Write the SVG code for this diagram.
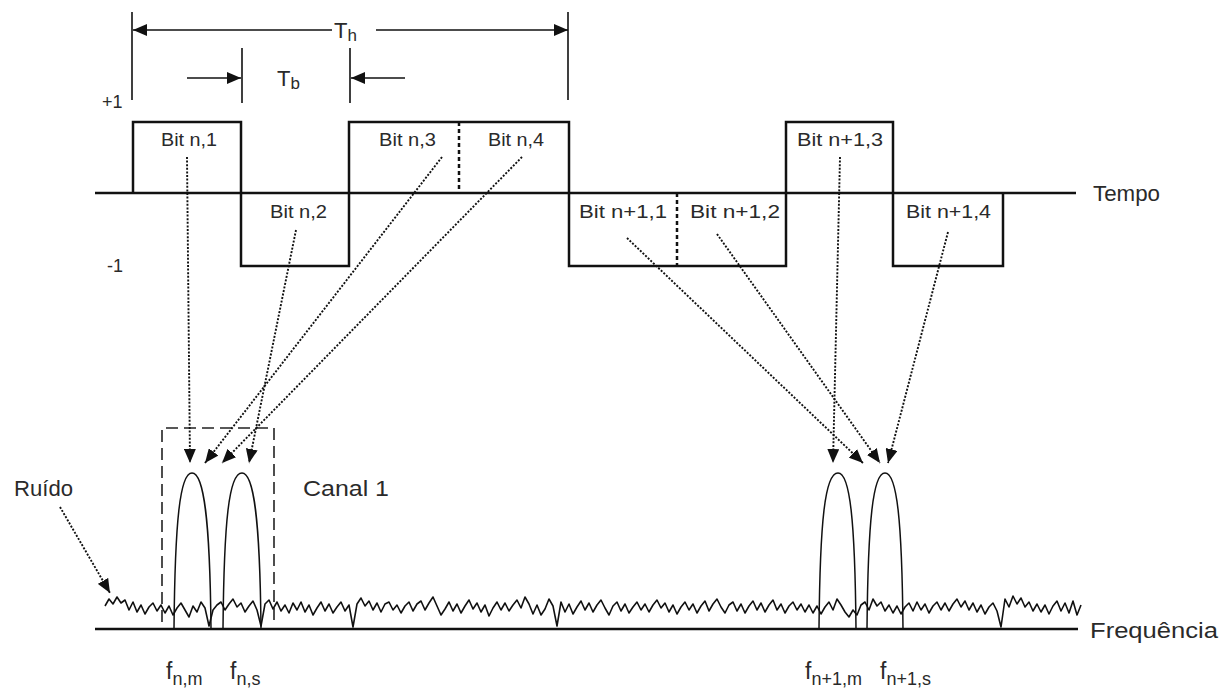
<svg xmlns="http://www.w3.org/2000/svg" width="1228" height="691" viewBox="0 0 1228 691">
<style>
text{font-family:"Liberation Sans",Arial,sans-serif;fill:#2a2a2a;}
.lbl{font-size:18px;}
.big{font-size:22px;}
.ax{stroke:#111;stroke-width:2.5;fill:none;}
.wave{stroke:#111;stroke-width:2.5;fill:none;}
.dim{stroke:#111;stroke-width:1.6;fill:none;}
.dot{stroke:#111;stroke-width:1.9;stroke-dasharray:2 1.6;fill:none;}
.lobe{stroke:#111;stroke-width:1.5;fill:none;}
.noise{stroke:#111;stroke-width:1.6;fill:none;stroke-linejoin:round;}
.box{stroke:#222;stroke-width:1.6;stroke-dasharray:12 6;fill:none;}
</style>
<defs>
<marker id="ah" viewBox="0 0 14 12" refX="14" refY="6" markerWidth="14" markerHeight="12" markerUnits="userSpaceOnUse" orient="auto">
<path d="M0,0 L14,6 L0,12 z" fill="#111"/>
</marker>
</defs>
<rect width="1228" height="691" fill="#fff"/>

<g id="time-axis">
<path class="ax" d="M95,193 H1076"/>
<text class="big" x="1093" y="201" textLength="67" lengthAdjust="spacingAndGlyphs">Tempo</text>
<text class="lbl" x="102" y="108" font-size="15">+1</text>
<text class="lbl" x="107" y="272" font-size="16">-1</text>
</g>

<g id="waveform">
<path class="wave" d="M133,193 V122 H241 V266 H349 V122 H569 V266 H786 V122 H893 V266 H1003 V193"/>
<path class="wave" d="M459,122 V193" stroke-dasharray="4 3"/>
<path class="wave" d="M677,193 V266" stroke-dasharray="4 3"/>
</g>

<g id="bit-labels">
<text class="lbl" x="161" y="146" textLength="56" lengthAdjust="spacingAndGlyphs">Bit n,1</text>
<text class="lbl" x="270" y="218" textLength="57" lengthAdjust="spacingAndGlyphs">Bit n,2</text>
<text class="lbl" x="379" y="146" textLength="57" lengthAdjust="spacingAndGlyphs">Bit n,3</text>
<text class="lbl" x="488" y="146" textLength="56" lengthAdjust="spacingAndGlyphs">Bit n,4</text>
<text class="lbl" x="579" y="218" textLength="88" lengthAdjust="spacingAndGlyphs">Bit n+1,1</text>
<text class="lbl" x="690" y="218" textLength="90" lengthAdjust="spacingAndGlyphs">Bit n+1,2</text>
<text class="lbl" x="797" y="146" textLength="86" lengthAdjust="spacingAndGlyphs">Bit n+1,3</text>
<text class="lbl" x="906" y="218" textLength="85" lengthAdjust="spacingAndGlyphs">Bit n+1,4</text>
</g>

<g id="dimension-Th">
<path class="dim" d="M132,12 V100 M568,12 V100"/>
<path class="dim" d="M332,30 H133" marker-end="url(#ah)"/>
<path class="dim" d="M376,30 H568" marker-end="url(#ah)"/>
<text x="334" y="38" font-size="22">T<tspan font-size="17" dy="3">h</tspan></text>
</g>

<g id="dimension-Tb">
<path class="dim" d="M242,48 V103 M350,48 V103"/>
<path class="dim" d="M187,78 H241" marker-end="url(#ah)"/>
<path class="dim" d="M405,78 H351" marker-end="url(#ah)"/>
<text x="277" y="86" font-size="22">T<tspan font-size="17" dy="3">b</tspan></text>
</g>

<g id="freq-axis">
<path class="ax" d="M95,629 H1078"/>
<text class="big" x="1090" y="638" textLength="128" lengthAdjust="spacingAndGlyphs">Frequência</text>
</g>

<g id="noise">
<polyline class="noise" points="105,606 109,599 113,604 117,597 121,603 125,600 129,610 133,602 137,612 141,605 145,614 149,607 153,603 157,611 161,605 165,613 169,606 173,615 177,608 181,603 185,610 189,617 193,606 197,612 201,602 205,608 209,626 213,610 217,605 221,602 225,610 229,604 233,599 237,607 241,603 245,612 249,606 253,601 257,610 261,626 265,604 269,600 273,609 277,602 281,611 285,605 289,613 293,603 297,610 301,602 305,612 309,605 313,615 317,608 321,602 325,611 329,604 333,613 337,607 341,602 345,611 349,605 353,627 357,604 361,598 365,606 369,601 373,610 377,603 381,612 385,604 389,602 393,610 397,605 401,613 405,606 409,602 413,611 417,604 421,601 425,610 429,603 433,597 437,606 441,615 445,609 449,602 453,611 457,604 461,613 465,606 469,600 473,609 477,603 481,612 485,605 489,616 493,608 497,602 501,610 505,603 509,611 513,605 517,600 521,608 525,597 529,604 533,614 537,605 541,615 545,609 549,599 553,606 557,626 561,602 565,612 569,604 573,614 577,607 581,601 585,610 589,603 593,612 597,605 601,600 605,608 609,615 613,606 617,602 621,611 625,604 629,613 633,607 637,602 641,610 645,604 649,612 653,605 657,600 661,608 665,603 669,612 673,605 677,614 681,607 685,602 689,610 693,604 697,613 701,606 705,601 709,611 713,604 717,599 721,607 725,613 729,605 733,602 737,611 741,604 745,613 749,606 753,601 757,610 761,603 765,612 769,605 773,600 777,610 781,604 785,613 789,606 793,602 797,610 801,604 805,612 809,605 813,613 817,606 821,614 825,607 829,602 833,610 837,599 841,605 845,612 849,617 853,610 857,615 861,605 865,602 869,610 873,599 877,606 881,602 885,611 889,605 893,613 897,606 901,614 905,607 909,603 913,611 917,602 921,610 925,604 929,613 933,606 937,602 941,610 945,603 949,611 953,604 957,599 961,607 965,601 969,610 973,603 977,612 981,605 985,614 989,607 993,603 997,611 1001,627 1005,599 1009,607 1013,596 1017,604 1021,598 1025,607 1029,602 1033,611 1037,604 1041,612 1045,605 1049,614 1053,606 1057,601 1061,611 1065,603 1069,613 1073,601 1077,615 1081,605"/>
</g>

<g id="canal1">
<path class="box" d="M162,622 V428 H274 V622"/>
<text class="big" x="303" y="496" textLength="86" lengthAdjust="spacingAndGlyphs">Canal 1</text>
</g>

<g id="lobe-fnm">
<path class="lobe" d="M174,629 C175,520 180,473 192,473 C204,473 210,520 211,629"/>
<text x="166" y="679" font-size="23">f<tspan font-size="18" dy="6">n,m</tspan></text>
</g>
<g id="lobe-fns">
<path class="lobe" d="M223,629 C224,520 229,473 242,473 C254,473 260,520 261,629"/>
<text x="230" y="679" font-size="23">f<tspan font-size="18" dy="6">n,s</tspan></text>
</g>
<g id="lobe-fn1m">
<path class="lobe" d="M819,629 C820,520 825,473 838,473 C850,473 855,520 856,629"/>
<text x="805" y="679" font-size="23">f<tspan font-size="18" dy="6">n+1,m</tspan></text>
</g>
<g id="lobe-fn1s">
<path class="lobe" d="M867,629 C868,520 873,473 885,473 C897,473 902,520 903,629"/>
<text x="880" y="679" font-size="23">f<tspan font-size="18" dy="6">n+1,s</tspan></text>
</g>

<g id="ruido">
<text class="big" x="14" y="496" textLength="59" lengthAdjust="spacingAndGlyphs">Ruído</text>
</g>

<g id="connectors">
<path class="dot" d="M187,157 L190,463" marker-end="url(#ah)"/>
<path class="dot" d="M296,230 L249,463" marker-end="url(#ah)"/>
<path class="dot" d="M442,157 L205,463" marker-end="url(#ah)"/>
<path class="dot" d="M522,157 L222,463" marker-end="url(#ah)"/>
<path class="dot" d="M627,238 L863,463" marker-end="url(#ah)"/>
<path class="dot" d="M717,234 L880,463" marker-end="url(#ah)"/>
<path class="dot" d="M840,157 L833,463" marker-end="url(#ah)"/>
<path class="dot" d="M948,232 L888,463" marker-end="url(#ah)"/>
<path class="dot" d="M60,507 L110,593" marker-end="url(#ah)"/>
</g>
</svg>
